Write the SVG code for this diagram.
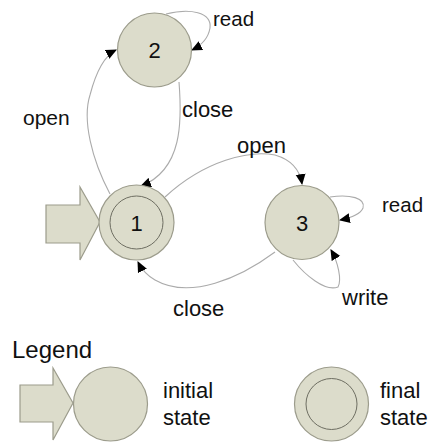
<svg xmlns="http://www.w3.org/2000/svg" width="433" height="443" viewBox="0 0 433 443">
  <style>
    .state { fill: #dcdccb; stroke: #9c9c8c; stroke-width: 1.2; }
    .inner { fill: none; stroke: #6e6e62; stroke-width: 1; }
    .edge { fill: none; stroke: #ababab; stroke-width: 1.1; }
    .lbl { font-family: "Liberation Sans", Arial, sans-serif; font-size: 22px; fill: #111; }
    .num { font-family: "Liberation Sans", Arial, sans-serif; font-size: 22px; fill: #111; text-anchor: middle; }
  </style>
  <defs>
    <marker id="arrow" viewBox="0 0 10 10" refX="9" refY="5" markerWidth="11" markerHeight="11" markerUnits="userSpaceOnUse" orient="auto">
      <path d="M0,0.5 L10,5 L0,9.5 Z" fill="#000"/>
    </marker>
  </defs>

  <rect width="433" height="443" fill="#fff"/>

  <!-- transitions -->
  <g id="connectors">
    <path class="edge" d="M110,194 C92,160 82,120 90,95 C96,72 104,56 116,50" marker-end="url(#arrow)"/>
    <path class="edge" d="M179,82 C182,120 183,170 141,186" marker-end="url(#arrow)"/>
    <path class="edge" d="M165,197 C205,160 250,150 275,155 C292,160 300,170 302,184" marker-end="url(#arrow)"/>
    <path class="edge" d="M275,252 C240,278 190,300 155,280 C148,276 142,270 138,262" marker-end="url(#arrow)"/>
    <path class="edge" d="M166,14 C190,8 212,12 210,28 C208,40 200,46 192,50" marker-end="url(#arrow)"/>
    <path class="edge" d="M330,197 C350,194 366,198 363,208 C360,215 350,218 340,220" marker-end="url(#arrow)"/>
    <path class="edge" d="M293,260 C305,275 325,292 338,287 C342,280 338,262 331,250" marker-end="url(#arrow)"/>
  </g>

  <!-- state 1: initial and final -->
  <g id="state1">
    <path class="state" d="M46,205 H80 V187 L100,222 L80,260 V243 H46 Z"/>
    <circle class="state" cx="136.5" cy="222.5" r="37.5"/>
    <circle class="inner" cx="136.5" cy="222.5" r="26.5"/>
    <text class="num" x="136.5" y="230.5">1</text>
  </g>

  <g id="state2">
    <circle class="state" cx="154.5" cy="50" r="37"/>
    <text class="num" x="154.5" y="58">2</text>
  </g>

  <g id="state3">
    <circle class="state" cx="302" cy="222.5" r="37"/>
    <text class="num" x="302" y="230.5">3</text>
  </g>

  <!-- transition labels -->
  <g id="labels">
    <text class="lbl" x="213" y="26" font-size="20.5" style="font-size:20.5px">read</text>
    <text class="lbl" x="182" y="117">close</text>
    <text class="lbl" x="23" y="125" style="font-size:21px">open</text>
    <text class="lbl" x="237" y="153">open</text>
    <text class="lbl" x="382" y="212" style="font-size:20.5px">read</text>
    <text class="lbl" x="342" y="305">write</text>
    <text class="lbl" x="173" y="316">close</text>
  </g>

  <!-- legend -->
  <g id="legend">
    <text class="lbl" x="12" y="358" style="font-size:24px">Legend</text>
    <g id="legend-initial">
      <path class="state" d="M20,385 H53 V368 L73,403 L53,440 V422 H20 Z"/>
      <circle class="state" cx="110.5" cy="404" r="37"/>
      <text class="lbl" x="163" y="398">initial</text>
      <text class="lbl" x="163" y="425">state</text>
    </g>
    <g id="legend-final">
      <circle class="state" cx="331.5" cy="404" r="37"/>
      <circle class="inner" cx="331.5" cy="404" r="25.5"/>
      <text class="lbl" x="380" y="398">final</text>
      <text class="lbl" x="380" y="425">state</text>
    </g>
  </g>
</svg>
